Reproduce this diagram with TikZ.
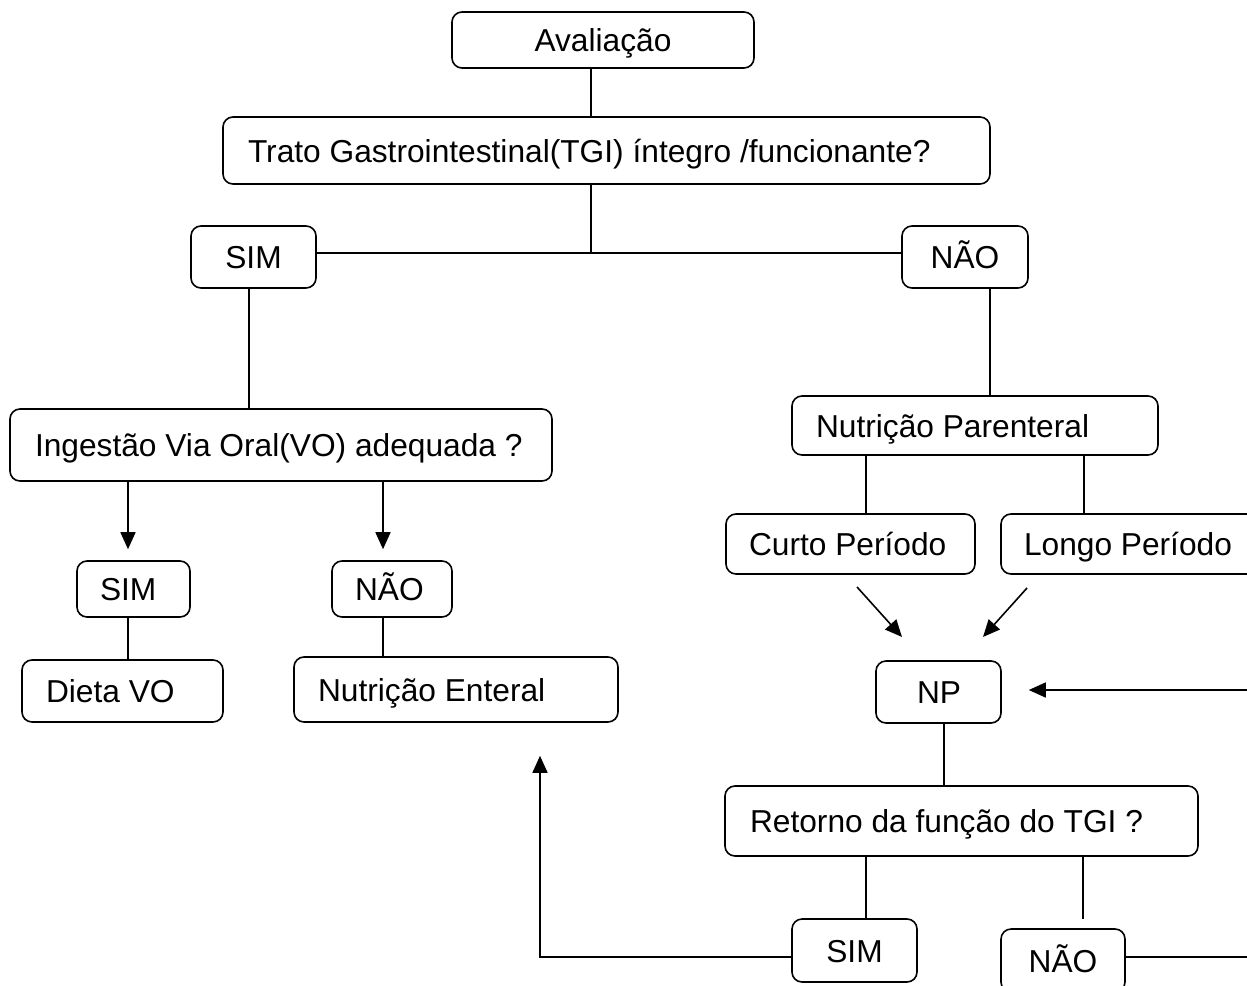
\documentclass[tikz,border=0pt]{standalone}
\usepackage{fontspec}
\setmainfont{Liberation Sans}
\usetikzlibrary{arrows.meta,calc}
\tikzset{
  box/.style={draw, line width=1.6pt, rounded corners=10pt, inner ysep=0pt,
    text height=23pt, text depth=0pt, font=\fontsize{31.7}{38}\selectfont},
  conn/.style={line width=1.6pt},
  arr/.style={line width=1.6pt, -{Triangle[length=17pt,width=15pt]}},
}
\begin{document}
\begin{tikzpicture}[x=1pt,y=-1pt]
\useasboundingbox (0,0) rectangle (1247,985);
\fill[white] (0,0) rectangle (1247,985);
\clip (0,0) rectangle (1247,985);
% boxes
\node[box, inner xsep=0pt, minimum width=302pt, minimum height=56pt] (aval) at (603,40) {\makebox[302pt][c]{Avaliação}};
\node[box, inner xsep=25pt, minimum height=67pt] (tgi) at (606.5,150.5) {\makebox[717pt][l]{Trato Gastrointestinal(TGI) íntegro /funcionante?}};
\node[box, inner xsep=0pt, minimum width=125pt, minimum height=62pt] (sim1) at (253.5,257) {SIM};
\node[box, inner xsep=0pt, minimum width=126pt, minimum height=62pt] (nao1) at (965,257) {NÃO};
\node[box, inner xsep=25pt, minimum height=72pt] (ing) at (281,445) {\makebox[492pt][l]{Ingestão Via Oral(VO) adequada ?}};
\node[box, inner xsep=23pt, minimum height=56pt] (sim2) at (133.5,589) {\makebox[67pt][l]{SIM}};
\node[box, inner xsep=23pt, minimum height=56pt] (nao2) at (392,589) {\makebox[74pt][l]{NÃO}};
\node[box, inner xsep=24pt, minimum height=62pt] (dieta) at (122.5,691) {\makebox[153pt][l]{Dieta VO}};
\node[box, inner xsep=24pt, minimum height=65pt] (nent) at (456,689.5) {\makebox[276pt][l]{Nutrição Enteral}};
\node[box, inner xsep=24pt, minimum height=59pt] (npar) at (975,425.5) {\makebox[318pt][l]{Nutrição Parenteral}};
\node[box, inner xsep=23pt, minimum height=60pt] (curto) at (850.5,544) {\makebox[203pt][l]{Curto Período}};
\node[box, inner xsep=23pt, minimum height=60pt] (longo) at (1140.5,544) {\makebox[233pt][l]{Longo Período}};
\node[box, inner xsep=41pt, minimum height=62pt] (np) at (938.5,692) {\makebox[43pt][l]{NP}};
\node[box, inner xsep=25pt, minimum height=70pt] (ret) at (961.5,821) {\makebox[423pt][l]{Retorno da função do TGI ?}};
\node[box, inner xsep=0pt, minimum width=125pt, minimum height=63pt] (sim3) at (854.5,950.5) {SIM};
\node[box, inner xsep=0pt, minimum width=124pt, minimum height=63pt] (nao3) at (1063,960.5) {NÃO};
% guide coordinates
\coordinate (xa) at (591,0);
\coordinate (j1) at (591,253);
\coordinate (xs1) at (249,0);
\coordinate (xn1) at (990,0);
\coordinate (xi1) at (128,0);
\coordinate (xi2) at (383,0);
\coordinate (xp1) at (866,0);
\coordinate (xp2) at (1084,0);
\coordinate (xnp) at (944,0);
\coordinate (xr1) at (866,0);
\coordinate (xr2) at (1083,0);
\coordinate (yb) at (0,957);
\coordinate (xl) at (540,0);
\coordinate (xrt) at (1265,0);
\coordinate (ynp) at (0,690);
\coordinate (c1s) at (845.3,574);
\coordinate (c1e) at (923.6,661);
\coordinate (c2s) at (1039.6,574);
\coordinate (c2e) at (961.4,661);
% connectors
\draw[conn] (aval.south -| xa) -- (tgi.north -| xa);
\draw[conn] (tgi.south -| xa) -- (j1);
\draw[conn] (sim1.east |- j1) -- (nao1.west |- j1);
\draw[conn] (sim1.south -| xs1) -- (ing.north -| xs1);
\draw[conn] (nao1.south -| xn1) -- (npar.north -| xn1);
\draw[arr, shorten >=11pt] (ing.south -| xi1) -- (sim2.north -| xi1);
\draw[arr, shorten >=11pt] (ing.south -| xi2) -- (nao2.north -| xi2);
\draw[conn] (sim2.south -| xi1) -- (dieta.north -| xi1);
\draw[conn] (nao2.south -| xi2) -- (nent.north -| xi2);
\draw[conn] (npar.south -| xp1) -- (curto.north -| xp1);
\draw[conn] (npar.south -| xp2) -- (longo.north -| xp2);
\draw[arr, shorten <=17.5pt, shorten >=32.3pt] (c1s) -- (c1e);
\draw[arr, shorten <=18.8pt, shorten >=32.3pt] (c2s) -- (c2e);
\draw[conn] (np.south -| xnp) -- (ret.north -| xnp);
\draw[conn] (ret.south -| xr1) -- (sim3.north -| xr1);
\draw[conn, shorten >=9pt] (ret.south -| xr2) -- (nao3.north -| xr2);
\draw[arr, shorten >=33pt] (sim3.west |- yb) -- (xl |- yb) -- (nent.south -| xl);
\draw[arr, shorten >=27pt] (nao3.east |- yb) -- (xrt |- yb) -- (xrt |- ynp) -- (np.east |- ynp);
\end{tikzpicture}
\end{document}
